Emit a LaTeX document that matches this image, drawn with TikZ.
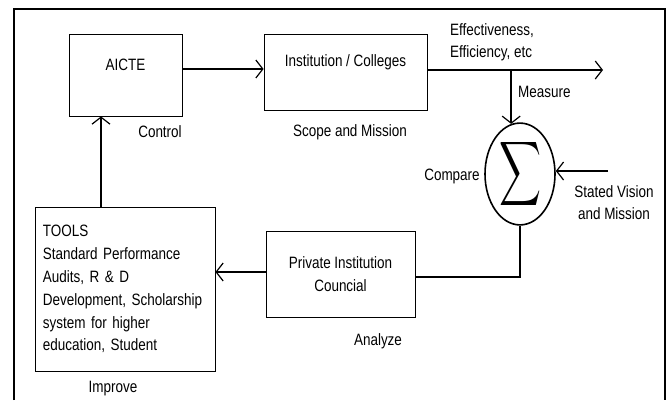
\documentclass[tikz,border=0pt]{standalone}
\usepackage{fontspec}
\setmainfont{Liberation Sans}[FakeStretch=0.82]
\usetikzlibrary{shapes.geometric, arrows.meta, positioning, calc}
\tikzset{
  ctrlbox/.style={
    draw, line width=0.8bp, inner sep=0pt, align=center,
    font=\fontsize{16.5}{23}\selectfont, fill=white
  },
  ctrlarrow/.style={
    -{Straight Barb[length=7bp, width=18bp, line width=1.2bp]}, line width=1.6bp
  },
  ctrlline/.style={line width=1.6bp},
  ctrllabel/.style={
    font=\fontsize{16.5}{22}\selectfont, inner sep=0pt
  },
}

\begin{document}
\begin{tikzpicture}[x=1bp, y=-1bp]
  \useasboundingbox (0,0) rectangle (670,400);

  % Outer frame, open at the bottom
  \draw[line width=2bp] (13.5,400) -- (13.5,9) -- (665,9) -- (665,400);

  % Main blocks
  \node[ctrlbox, minimum width=113bp, text height=36bp, text depth=46bp]
    (aicte) at (125.5,75) {AICTE};
  \node[ctrlbox, minimum width=163bp, text height=32bp, text depth=44bp]
    (inst) at (345.5,72) {Institution / Colleges};
  \node[ctrlbox, minimum width=149bp, minimum height=86bp]
    (council) at (340.5,274) {Private Institution\\Councial};
  \node[ctrlbox, align=left, text width=164bp, minimum width=180bp,
    minimum height=164bp] (tools) at (125,289)
    {TOOLS\\Standard Performance\\Audits, R \& D\\Development, Scholarship\\system for higher\\education, Student};

  % Comparator
  \node[draw, ellipse, line width=1.6bp, minimum width=70bp,
    minimum height=98bp, inner sep=0pt] (sigma) at (520,174)
    {\resizebox*{42bp}{72bp}{$\displaystyle\sum$}};

  % Labels
  \node[ctrllabel] (control) at (160,132) {Control};
  \node[ctrllabel] (scope) at (350,132) {Scope and Mission};
  \node[ctrllabel, align=left, anchor=west] (effect) at (450,42)
    {Effectiveness,\\Efficiency, etc};
  \node[ctrllabel, anchor=west] (measure) at (518,92) {Measure};
  \node[ctrllabel] (compare) at (452,176) {Compare};
  \node[ctrllabel, align=center] (vision) at (614,203)
    {Stated Vision\\and Mission};
  \node[ctrllabel] (analyze) at (378,341) {Analyze};
  \node[ctrllabel] (improve) at (113,389) {Improve};

  \coordinate (out) at (603,70);
  \coordinate (visin) at (608,171);

  % Arrows
  \draw[ctrlarrow] ([yshift=6bp]aicte.east) -- ([yshift=6bp]aicte.east -| inst.west);
  \draw[ctrlarrow] ([yshift=2bp]inst.east) -- (out);
  \draw[ctrlarrow] ([yshift=2bp]inst.east -| sigma.100) -- (sigma.100);
  \draw[ctrlarrow] (visin) -- (visin -| sigma.east);
  \draw[ctrlline] (sigma.south) |- ([yshift=-3bp]council.east);
  \draw[ctrlarrow] ([yshift=2bp]council.west) -- ([yshift=2bp]council.west -| tools.east);
  \draw[ctrlarrow] ([xshift=-24bp]tools.north) -- ([xshift=-24bp]tools.north |- aicte.south);
\end{tikzpicture}
\end{document}
